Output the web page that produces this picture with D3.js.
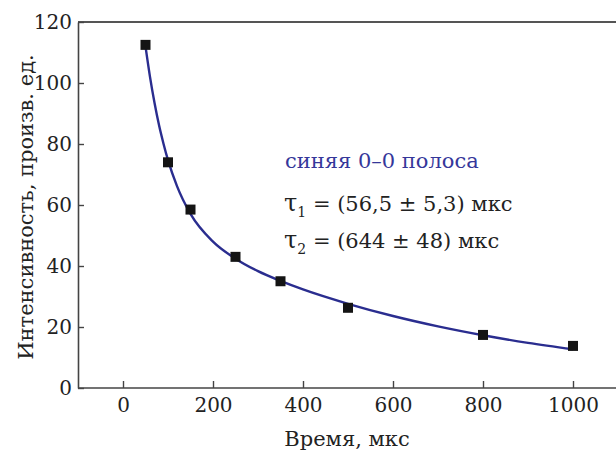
<!DOCTYPE html>
<html>
<head>
<meta charset="utf-8">
<script src="https://cdn.jsdelivr.net/npm/d3@7"></script>
<style>
  body { margin: 0; background: #fff; }
</style>
</head>
<body>
<div id="chart"></div>
<script>
// measured points
const times = [50, 100, 150, 250, 350, 500, 800, 1000];
const intensity = [112.5, 74, 58.5, 43, 35, 26.3, 17.4, 13.8];

// fitted curve
const fitTimes = [50, 60, 70, 80, 90, 100, 120, 150, 200, 250, 300, 350, 400, 500, 600, 700, 800, 900, 1000];
const fitValues = [112, 102, 93.5, 86.2, 80.1, 74.7, 66.2, 57.1, 48, 42.4, 38.3, 35.1, 32.3, 27.6, 23.6, 20.2, 17.3, 14.8, 12.7];

const xTicks = [0, 200, 400, 600, 800, 1000];
const yTicks = [0, 20, 40, 60, 80, 100, 120];

const width = 616;
const height = 453;
const margin = { top: 22, right: -2, bottom: 65, left: 78 };
const serif = 'DejaVu Serif';

const svg = d3.select('#chart').append('svg')
  .attr('width', width)
  .attr('height', height)
  .attr('font-family', serif);

const x = d3.scaleLinear()
  .domain([-100, 1100])
  .range([margin.left, width - margin.right]);

const y = d3.scaleLinear()
  .domain([0, 120])
  .range([height - margin.bottom, margin.top]);

const axisColor = '#444';

// top frame line
svg.append('line')
  .attr('x1', margin.left).attr('x2', width)
  .attr('y1', y(120)).attr('y2', y(120))
  .attr('stroke', '#555')
  .attr('stroke-width', 2.2);

const xAxis = svg.append('g')
  .attr('transform', `translate(0,${y(0)})`)
  .call(d3.axisBottom(x).tickValues(xTicks).tickSizeInner(-7).tickSizeOuter(0).tickPadding(10).tickFormat(d3.format('d')));

const yAxis = svg.append('g')
  .attr('transform', `translate(${margin.left},0)`)
  .call(d3.axisLeft(y).tickValues(yTicks).tickSizeInner(-6).tickSizeOuter(0).tickPadding(6).tickFormat(d3.format('d')));

[xAxis, yAxis].forEach((g) => {
  g.attr('font-family', serif).attr('font-size', 20);
  g.select('.domain').attr('stroke', axisColor).attr('stroke-width', 1.6);
  g.selectAll('.tick line').attr('stroke', axisColor).attr('stroke-width', 1.4);
  g.selectAll('.tick text').attr('fill', '#222');
});
xAxis.select('.domain').attr('d', `M${margin.left},0H${width}`);

// fit curve
const line = d3.line()
  .x((d, i) => x(fitTimes[i]))
  .y((d) => y(d))
  .curve(d3.curveMonotoneX);

svg.append('path')
  .datum(fitValues)
  .attr('d', line)
  .attr('fill', 'none')
  .attr('stroke', '#2a2d8f')
  .attr('stroke-width', 2.4);

// data markers
const s = 10;
svg.selectAll('rect.pt')
  .data(times)
  .enter()
  .append('rect')
  .attr('class', 'pt')
  .attr('x', (d) => x(d) - s / 2)
  .attr('y', (d, i) => y(intensity[i]) - s / 2)
  .attr('width', s)
  .attr('height', s)
  .attr('fill', '#141414');

// axis titles
svg.append('text')
  .attr('x', x(500) - 1)
  .attr('y', 446)
  .attr('text-anchor', 'middle')
  .attr('font-size', 21)
  .attr('fill', '#222')
  .text('Время, мкс');

svg.append('text')
  .attr('transform', `translate(33,${y(60) + 2}) rotate(-90)`)
  .attr('text-anchor', 'middle')
  .attr('font-size', 21)
  .attr('fill', '#222')
  .text('Интенсивность, произв. ед.');

// annotation
const note = svg.append('g')
  .attr('font-size', 21)
  .attr('fill', '#222');

note.append('text')
  .attr('x', 285).attr('y', 168)
  .attr('fill', '#35379a')
  .text('синяя 0–0 полоса');

const t1 = note.append('text').attr('x', 284).attr('y', 211);
t1.append('tspan').attr('font-size', 24).text('τ');
t1.append('tspan').attr('font-size', 14).attr('dy', 6).text('1');
t1.append('tspan').attr('dy', -6).text(' = (56,5 ± 5,3) мкс');

const t2 = note.append('text').attr('x', 284).attr('y', 248);
t2.append('tspan').attr('font-size', 24).text('τ');
t2.append('tspan').attr('font-size', 14).attr('dy', 6).text('2');
t2.append('tspan').attr('dy', -6).text(' = (644 ± 48) мкс');
</script>
</body>
</html>
